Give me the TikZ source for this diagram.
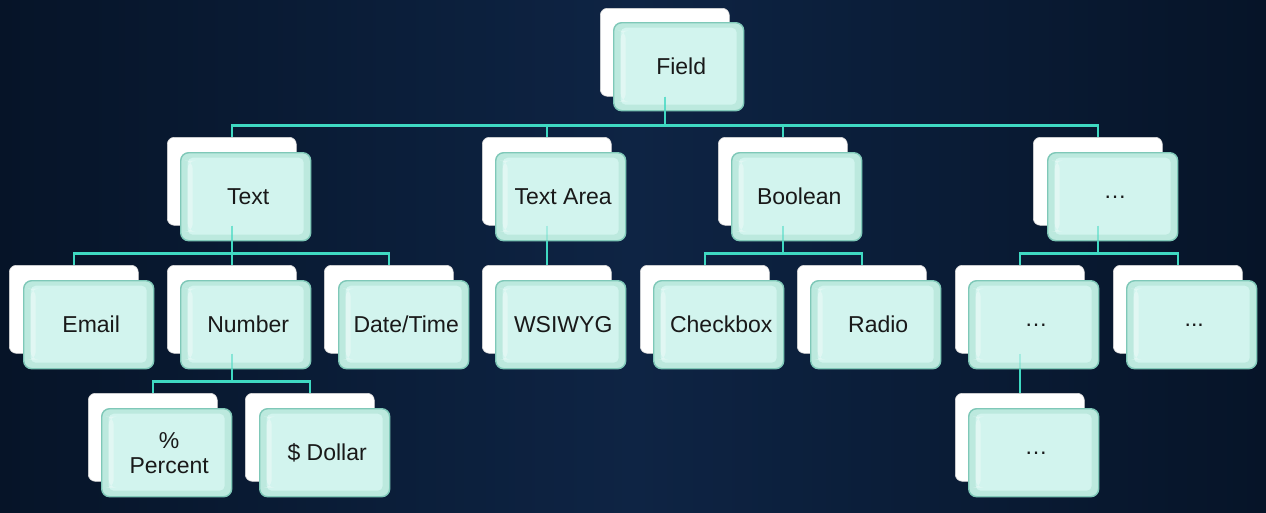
\documentclass[tikz,border=0pt]{standalone}
\usepackage{fontspec}
\setmainfont{Liberation Sans}
\definecolor{bgmid}{HTML}{0E2444}
\definecolor{bgedge}{HTML}{061428}
\definecolor{mint}{HTML}{BCE9DE}
\definecolor{mintin}{HTML}{D2F4EE}
\definecolor{mintedge}{HTML}{7FC8B8}
\definecolor{conncol}{HTML}{3FD9C2}
\tikzset{
 backbox/.style={draw=black!15, fill=white, rounded corners=7pt, minimum width=129pt, minimum height=88pt, anchor=north west, inner sep=0pt, line width=0.6pt},
 frontbox/.style={draw=mintedge, fill=mint, rounded corners=8pt, minimum width=130pt, minimum height=88pt, anchor=north west, inner sep=0pt, line width=1.4pt, font=\fontsize{23}{25}\selectfont, align=center, text=black!90,
   path picture={\fill[mintin, rounded corners=5pt] ([xshift=7pt,yshift=-5pt]path picture bounding box.north west) rectangle ([xshift=-7pt,yshift=6pt]path picture bounding box.south east);
   \fill[white, opacity=0.35] ([xshift=7pt,yshift=-8pt]path picture bounding box.north west) rectangle ([xshift=12pt,yshift=9pt]path picture bounding box.south west);}},
 conn/.style={draw=conncol, line width=2.4pt},
}
\newcommand\allconns{%
 \draw[conn] (fieldB.south) -- ++(0,29) -| (textB.north);
 \draw[conn] (fieldB.south) -- ++(0,29) -| (textareaB.north);
 \draw[conn] (fieldB.south) -- ++(0,29) -| (booleanB.north);
 \draw[conn] (fieldB.south) -- ++(0,29) -| (dotsAB.north);
 \draw[conn] (textB.south) -- ++(0,28) -| (emailB.north);
 \draw[conn] (textB.south) -- ++(0,28) -| (numberB.north);
 \draw[conn] (textB.south) -- ++(0,28) -| (datetimeB.north);
 \draw[conn] (textareaB.south) -- (wsiwygB.north);
 \draw[conn] (booleanB.south) -- ++(0,28) -| (checkboxB.north);
 \draw[conn] (booleanB.south) -- ++(0,28) -| (radioB.north);
 \draw[conn] (dotsAB.south) -- ++(0,28) -| (dotsBB.north);
 \draw[conn] (dotsAB.south) -- ++(0,28) -| (dotsCB.north);
 \draw[conn] (numberB.south) -- ++(0,28) -| (percentB.north);
 \draw[conn] (numberB.south) -- ++(0,28) -| (dollarB.north);
 \draw[conn] (dotsBB.south) -- (dotsDB.north);
}
\newcommand\sh[1]{\hspace*{5pt}#1}
\begin{document}
\begin{tikzpicture}[x=1pt,y=-1pt]
\useasboundingbox (0,0) rectangle (1266,512);
\shade[left color=bgedge, right color=bgedge, middle color=bgmid] (0,0) rectangle (1266,512);
% back boxes
\node[backbox] (fieldB) at (600,8) {};
\node[backbox] (textB) at (167,137) {};
\node[backbox] (textareaB) at (482,137) {};
\node[backbox] (booleanB) at (718,137) {};
\node[backbox] (dotsAB) at (1033,137) {};
\node[backbox] (emailB) at (9,265) {};
\node[backbox] (numberB) at (167,265) {};
\node[backbox] (datetimeB) at (324,265) {};
\node[backbox] (wsiwygB) at (482,265) {};
\node[backbox] (checkboxB) at (640,265) {};
\node[backbox] (radioB) at (797,265) {};
\node[backbox] (dotsBB) at (955,265) {};
\node[backbox] (dotsCB) at (1113,265) {};
\node[backbox] (percentB) at (88,393) {};
\node[backbox] (dollarB) at (245,393) {};
\node[backbox] (dotsDB) at (955,393) {};
% connectors
\allconns
% front boxes
\node[frontbox] (field) at (613,22) {\sh{Field}};
\node[frontbox] (text) at (180,152) {\sh{Text}};
\node[frontbox] (textarea) at (495,152) {\sh{Text Area}};
\node[frontbox] (boolean) at (731,152) {\sh{Boolean}};
\node[frontbox] (dotsA) at (1047,152) {\sh{\raisebox{-3pt}{…}}};
\node[frontbox] (email) at (23,280) {\sh{Email}};
\node[frontbox] (number) at (180,280) {\sh{Number}};
\node[frontbox] (datetime) at (338,280) {\sh{Date/Time}};
\node[frontbox] (wsiwyg) at (495,280) {\sh{WSIWYG}};
\node[frontbox] (checkbox) at (653,280) {\sh{Checkbox}};
\node[frontbox] (radio) at (810,280) {\sh{Radio}};
\node[frontbox] (dotsB) at (968,280) {\sh{\raisebox{-3pt}{…}}};
\node[frontbox] (dotsC) at (1126,280) {\sh{\raisebox{-3pt}{...}}};
\node[frontbox] (percent) at (101,408) {\sh{\%}\\\sh{Percent}};
\node[frontbox] (dollar) at (259,408) {\sh{\$ Dollar}};
\node[frontbox] (dotsD) at (968,408) {\sh{\raisebox{-3pt}{…}}};
% faint connectors seen through the front boxes
\begin{scope}[draw opacity=0.3]
\allconns
\end{scope}
\end{tikzpicture}
\end{document}
